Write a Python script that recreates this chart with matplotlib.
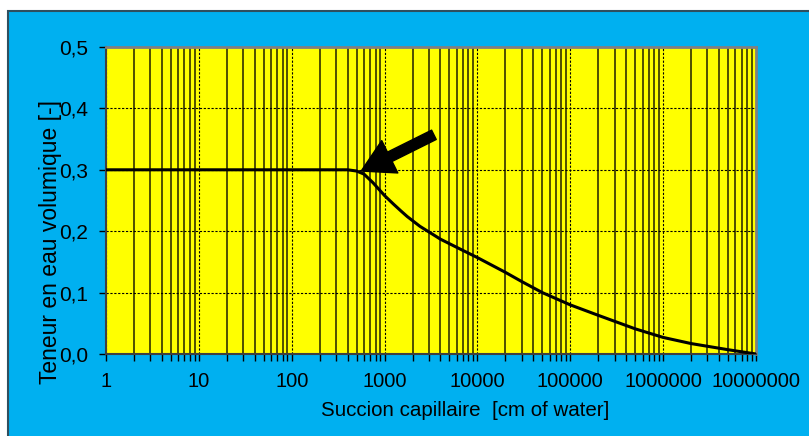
import numpy as np
import matplotlib.pyplot as plt
from matplotlib.patches import Rectangle
from matplotlib.ticker import FixedLocator, FuncFormatter, LogLocator, NullFormatter

plt.rcParams['font.family'] = ['Liberation Sans', 'DejaVu Sans']

# courbe de rétention
succion = [1, 10, 100, 300, 400, 500, 600, 750, 1000, 1250, 1500, 1750, 2400, 4000, 6500,
           10000, 20000, 30000, 50000, 100000, 200000, 500000, 1000000,
           2000000, 5000000, 10000000]
teneur = [0.3, 0.3, 0.3, 0.3, 0.3, 0.298, 0.293, 0.279, 0.258, 0.244, 0.233, 0.224, 0.208,
          0.187, 0.171, 0.157, 0.133, 0.118, 0.100, 0.080, 0.063, 0.041, 0.027,
          0.017, 0.007, 0.0]
y_ticks = [0.0, 0.1, 0.2, 0.3, 0.4, 0.5]

W, H = 809, 436
fig = plt.figure(figsize=(W / 100, H / 100), dpi=100)
fig.patch.set_facecolor('white')
fig.patches.append(Rectangle((8 / W, -0.01), 1, 1.01 - 11 / H, transform=fig.transFigure,
                             facecolor='#00B0F0', edgecolor='#2F4F5F', lw=1.5, zorder=-1))

ax = fig.add_axes([106 / W, (H - 354) / H, 650 / W, 307 / H])
ax.set_facecolor('#FFFF00')
ax.set_xscale('log')
ax.set_xlim(1, 1e7)
ax.set_ylim(0, 0.5)

ax.xaxis.set_major_locator(LogLocator(base=10, numticks=10))
ax.xaxis.set_minor_locator(LogLocator(base=10, subs=np.arange(2, 10), numticks=10))
ax.xaxis.set_major_formatter(FuncFormatter(lambda v, p: '%d' % round(v)))
ax.xaxis.set_minor_formatter(NullFormatter())
ax.yaxis.set_major_locator(FixedLocator(y_ticks))
ax.yaxis.set_major_formatter(FuncFormatter(lambda v, p: ('%.1f' % v).replace('.', ',')))

ax.grid(which='major', axis='both', color='black', ls=(0, (2, 1.5)), lw=0.8)
ax.grid(which='minor', axis='x', color='#202000', ls='-', lw=1.1)

for s in ['top', 'right']:
    ax.spines[s].set_color('#808080')
    ax.spines[s].set_linewidth(2)
for s in ['left', 'bottom']:
    ax.spines[s].set_color('#404040')
    ax.spines[s].set_linewidth(1.5)

ax.tick_params(which='both', direction='out', length=5, width=1, color='black')
ax.tick_params(axis='x', which='both', labelsize=14.5, pad=8)
ax.tick_params(axis='y', labelsize=15, pad=8)

ax.plot(succion, teneur, color='black', lw=2.2, zorder=5)

ax.annotate('', xy=(560, 0.298), xytext=(3400, 0.357),
            arrowprops=dict(width=7.5, headwidth=26, headlength=23, facecolor='black',
                            edgecolor='black', shrink=0), zorder=6)

fig.text(465 / W, 1 - 410 / H, 'Succion capillaire  [cm of water]', fontsize=14.8,
         ha='center', va='center')
fig.text(51 / W, 1 - 242 / H, 'Teneur en eau volumique [-]', fontsize=16.5,
         rotation=90, ha='center', va='center')

fig.savefig('out.png', dpi=100)
